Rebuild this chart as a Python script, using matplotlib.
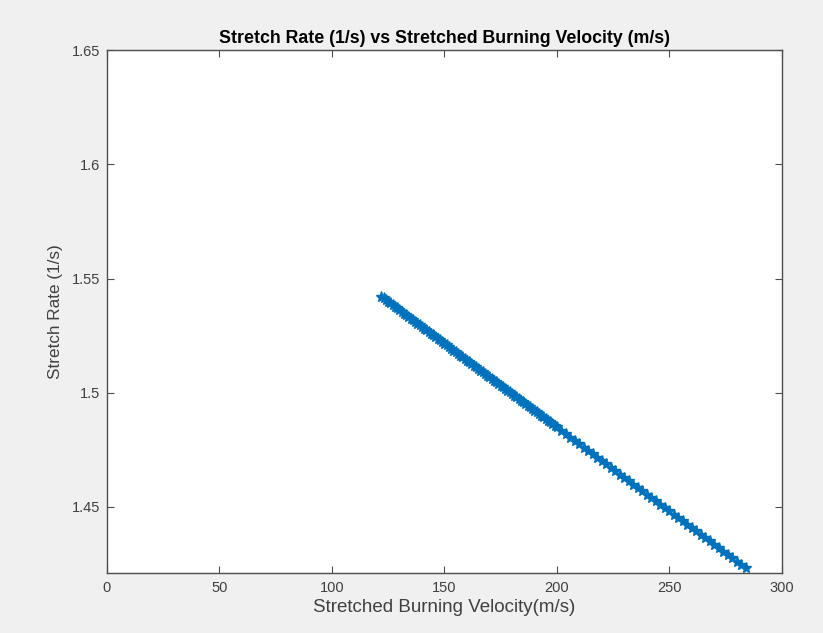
import matplotlib
matplotlib.use("Agg")
import matplotlib.pyplot as plt

velocity = [122, 123, 124, 125, 126, 127, 128, 129, 130, 131, 132, 133, 134, 135,
            136, 137, 138, 139, 140, 141, 142, 143, 144, 145, 146, 147, 148, 149,
            150, 151, 152, 153, 154, 155, 156, 157, 158, 159, 160, 161, 162, 163,
            164, 165, 166, 167, 168, 169, 170, 171, 172, 173, 174, 175, 176, 177,
            178, 179, 180, 181, 182, 183, 184, 185, 186, 187, 188, 189, 190, 191,
            192, 193, 194, 195, 196, 197, 198, 199, 200,
            202, 204, 206, 208, 210, 212, 214, 216, 218, 220,
            222, 224, 226, 228, 230, 232, 234, 236, 238, 240,
            242, 244, 246, 248, 250, 252, 254, 256, 258, 260,
            262, 264, 266, 268, 270, 272, 274, 276, 278, 280,
            282, 284]
stretch = [1.5420, 1.5413, 1.5405, 1.5398, 1.5391, 1.5383, 1.5376, 1.5369, 1.5361, 1.5354,
           1.5347, 1.5339, 1.5332, 1.5325, 1.5317, 1.5310, 1.5303, 1.5295, 1.5288, 1.5281,
           1.5273, 1.5266, 1.5259, 1.5251, 1.5244, 1.5237, 1.5229, 1.5222, 1.5214, 1.5207,
           1.5200, 1.5192, 1.5185, 1.5178, 1.5170, 1.5163, 1.5156, 1.5148, 1.5141, 1.5134,
           1.5126, 1.5119, 1.5112, 1.5104, 1.5097, 1.5090, 1.5082, 1.5075, 1.5068, 1.5060,
           1.5053, 1.5046, 1.5038, 1.5031, 1.5024, 1.5016, 1.5009, 1.5002, 1.4994, 1.4987,
           1.4980, 1.4972, 1.4965, 1.4958, 1.4950, 1.4943, 1.4936, 1.4928, 1.4921, 1.4914,
           1.4906, 1.4899, 1.4892, 1.4884, 1.4877, 1.4870, 1.4862, 1.4855, 1.4848,
           1.4833, 1.4818, 1.4804, 1.4789, 1.4774, 1.4759, 1.4745, 1.4730, 1.4715, 1.4701,
           1.4686, 1.4671, 1.4657, 1.4642, 1.4627, 1.4613, 1.4598, 1.4583, 1.4569, 1.4554,
           1.4539, 1.4525, 1.4510, 1.4495, 1.4481, 1.4466, 1.4451, 1.4437, 1.4422, 1.4407,
           1.4393, 1.4378, 1.4363, 1.4349, 1.4334, 1.4319, 1.4305, 1.4290, 1.4275, 1.4261,
           1.4246, 1.4231]

xticks = [0, 50, 100, 150, 200, 250, 300]
yticks = [1.45, 1.5, 1.55, 1.6, 1.65]
ytick_labels = ["1.45", "1.5", "1.55", "1.6", "1.65"]

plt.rcParams['font.family'] = ['Liberation Sans', 'DejaVu Sans']

fig = plt.figure(figsize=(8.23, 6.33), dpi=100, facecolor="#f0f0f0")
ax = fig.add_axes([0.130, 0.0948, 0.820, 0.826])
ax.set_facecolor("white")

ax.plot(velocity, stretch, linestyle="none", marker="*", markersize=8,
        color="#0072bd", markeredgewidth=1.0)

ax.set_xlim(0, 300)
ax.set_ylim(1.4211, 1.65)
ax.set_xticks(xticks)
ax.set_yticks(yticks)
ax.set_yticklabels(ytick_labels)

axc = "#404040"
for s in ax.spines.values():
    s.set_color("#4d4d4d")
    s.set_linewidth(1.0)
ax.tick_params(direction="in", length=5, width=0.8, colors="#4d4d4d",
               labelcolor=axc, labelsize=10.5, top=True, right=True, pad=6)
ax.tick_params(axis="y", pad=5)

ax.set_title("Stretch Rate (1/s) vs Stretched Burning Velocity (m/s)",
             fontsize=12.8, fontweight="bold", color="black", pad=5)
ax.set_xlabel("Stretched Burning Velocity(m/s)", fontsize=13.5, color=axc, labelpad=3)
ax.set_ylabel("Stretch Rate (1/s)", fontsize=12.3, color=axc, labelpad=6)

fig.savefig("out.png", dpi=100, facecolor=fig.get_facecolor())
